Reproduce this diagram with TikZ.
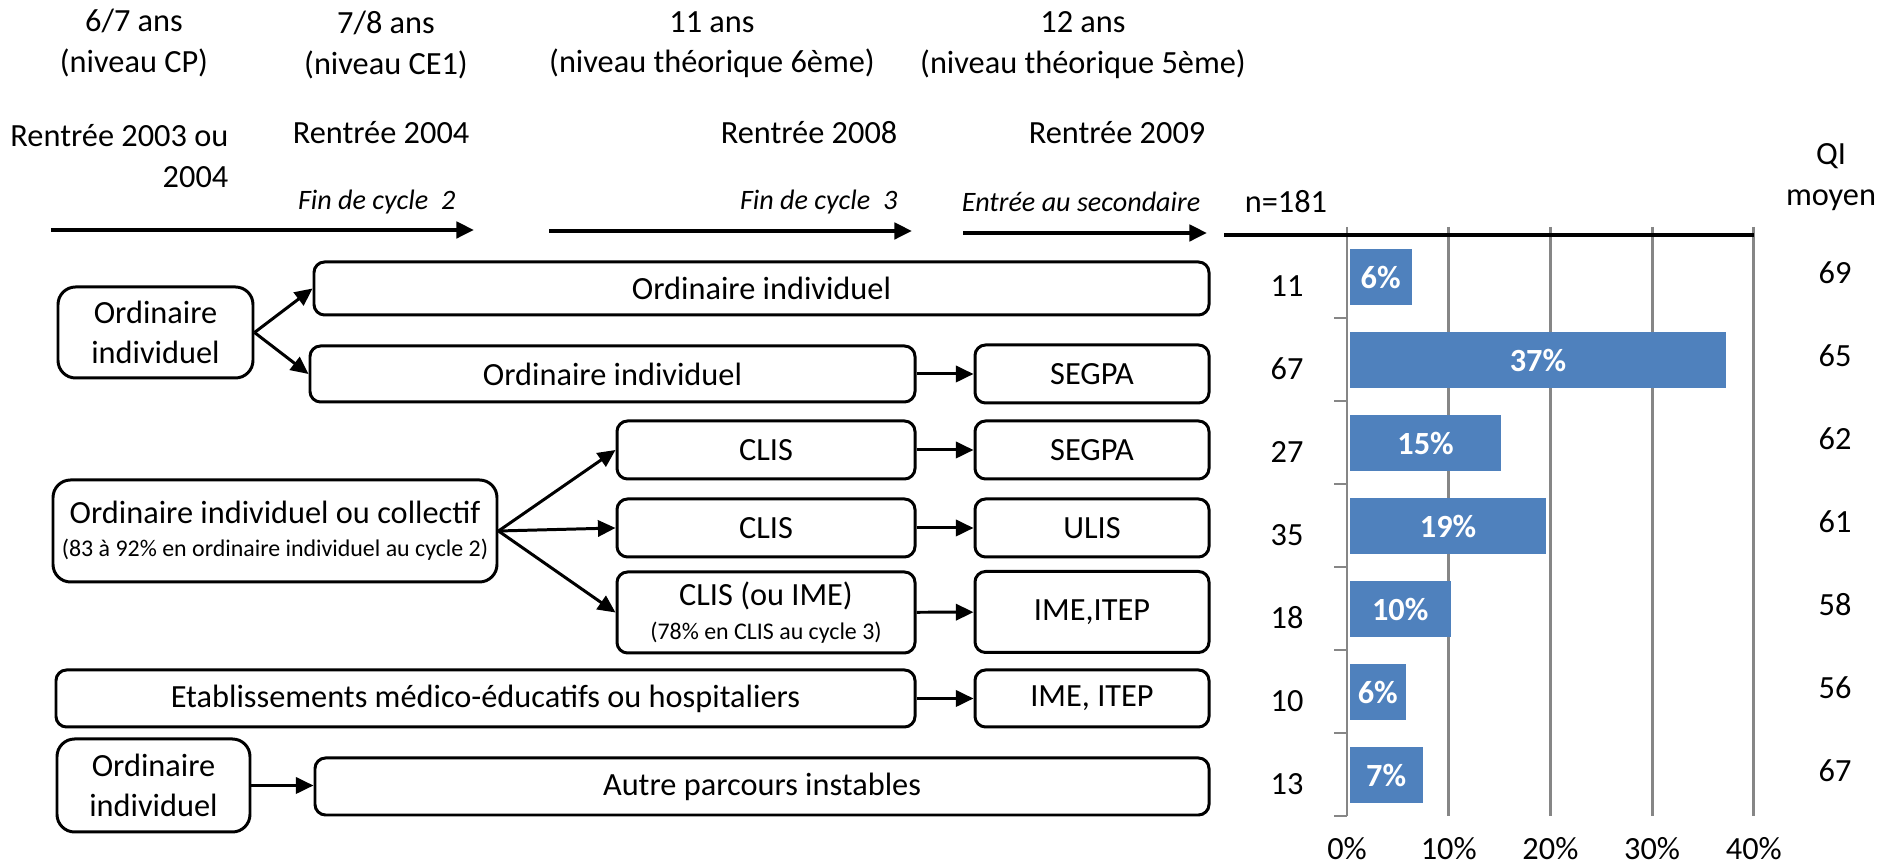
\documentclass[tikz,border=0pt]{standalone}
\usepackage{fontspec}
\setmainfont{Carlito}
\usepackage{tikz}
\usetikzlibrary{arrows.meta,positioning,calc}
\definecolor{barblue}{RGB}{79,129,189}
\definecolor{gridgray}{RGB}{134,134,134}

\begin{document}
\begin{tikzpicture}[x=1cm, y=-1cm, font=\fontsize{9.2}{11.5}\selectfont, >={Triangle[length=5pt,width=4.6pt]},
  box/.style={draw, line width=0.85pt, rounded corners=3pt, align=center, inner sep=1pt},
  bigbox/.style={box, rounded corners=5pt},
  lbl/.style={align=center, inner sep=0pt},
  cyc/.style={font=\fontsize{8}{9.6}\selectfont\itshape, inner sep=0pt},
  tl/.style={->, line width=1.1pt},
  arr/.style={->, line width=0.85pt},
  grid/.style={gridgray, line width=0.8pt},
  bar/.style={fill=barblue, text=white, font=\fontsize{9.2}{11.5}\selectfont\bfseries, inner sep=0pt, minimum height=0.56cm, anchor=west}]
  \useasboundingbox (0,0) rectangle (18.93,8.67);

  % ages and school years
  \node[lbl] (age1) at (1.34,0.43) {6/7 ans\\(niveau CP)};
  \node[lbl] (age2) at (3.86,0.45) {7/8 ans\\(niveau CE1)};
  \node[lbl] (age3) at (7.12,0.45) {11 ans\\(niveau théorique 6ème)};
  \node[lbl] (age4) at (10.83,0.45) {12 ans\\(niveau théorique 5ème)};
  \node[lbl, align=right, anchor=east] (ren1) at (2.29,1.56) {Rentrée 2003 ou\\2004};
  \node[lbl] (ren2) at (3.81,1.33) {Rentrée 2004};
  \node[lbl] (ren3) at (8.09,1.33) {Rentrée 2008};
  \node[lbl] (ren4) at (11.17,1.33) {Rentrée 2009};

  % timeline
  \coordinate (t1a) at (0.51,2.30);  \coordinate (t1b) at (4.74,2.30);
  \coordinate (t2a) at (5.49,2.31);  \coordinate (t2b) at (9.12,2.31);
  \coordinate (t3a) at (9.63,2.33);  \coordinate (t3b) at (12.07,2.33);
  \draw[tl] (t1a) -- (t1b);
  \draw[tl] (t2a) -- (t2b);
  \draw[tl] (t3a) -- (t3b);
  \node[cyc, anchor=east] (cyc2) at (4.56,2.02) {Fin de cycle~~2};
  \node[cyc, anchor=east] (cyc3) at (8.98,2.02) {Fin de cycle~~3};
  \node[cyc] (sec) at (10.81,2.02) {Entrée au secondaire};

  % pathways
  \node[bigbox, minimum width=1.95cm, minimum height=0.91cm] (oiA) at (1.555,3.325) {Ordinaire\\individuel};
  \node[box, minimum width=8.95cm, minimum height=0.53cm] (oi1) at (7.615,2.885) {Ordinaire individuel};
  \node[box, minimum width=6.05cm, minimum height=0.56cm] (oi2) at (6.125,3.74) {Ordinaire individuel};
  \node[box, minimum width=2.34cm, minimum height=0.58cm] (seg1) at (10.92,3.74) {SEGPA};
  \node[bigbox, minimum width=4.44cm, minimum height=1.02cm] (oicB) at (2.75,5.31) {Ordinaire individuel ou collectif\\[-2pt]{\fontsize{6.8}{8}\selectfont (83 à 92\% en ordinaire individuel au cycle 2)}};
  \node[box, minimum width=2.98cm, minimum height=0.58cm] (clis1) at (7.66,4.50) {CLIS};
  \node[box, minimum width=2.34cm, minimum height=0.58cm] (seg2) at (10.92,4.50) {SEGPA};
  \node[box, minimum width=2.98cm, minimum height=0.58cm] (clis2) at (7.66,5.28) {CLIS};
  \node[box, minimum width=2.34cm, minimum height=0.58cm] (ulis) at (10.92,5.28) {ULIS};
  \node[box, minimum width=2.98cm, minimum height=0.81cm] (clis3) at (7.66,6.125) {CLIS (ou IME)\\[-2pt]{\fontsize{6.8}{8}\selectfont (78\% en CLIS au cycle 3)}};
  \node[box, minimum width=2.34cm, minimum height=0.81cm] (ime1) at (10.92,6.12) {IME,ITEP};
  \node[box, minimum width=8.59cm, minimum height=0.57cm] (etab) at (4.855,6.985) {Etablissements médico-éducatifs ou hospitaliers};
  \node[box, minimum width=2.34cm, minimum height=0.57cm] (ime2) at (10.92,6.985) {IME, ITEP};
  \node[bigbox, minimum width=1.93cm, minimum height=0.93cm] (oiC) at (1.535,7.855) {Ordinaire\\individuel};
  \node[box, minimum width=8.94cm, minimum height=0.57cm] (autre) at (7.62,7.865) {Autre parcours instables};

  \draw[arr] (oiA.east) -- (oi1.west);
  \draw[arr] (oiA.east) -- (oi2.west);
  \draw[arr] (oi2) -- (seg1);
  \draw[arr] (oicB.east) -- (clis1.west);
  \draw[arr] (oicB.east) -- (clis2.west);
  \draw[arr] (oicB.east) -- (clis3.west);
  \draw[arr] (clis1) -- (seg2);
  \draw[arr] (clis2) -- (ulis);
  \draw[arr] (clis3) -- (ime1);
  \draw[arr] (etab) -- (ime2);
  \draw[arr] (oiC.east) -- (oiC.east -| autre.west);

  % bar chart
  \node[lbl] (nall) at (12.86,2.02) {n=181};
  \node[lbl] (qi) at (18.31,1.77) {QI\\moyen};
  \foreach \k in {1,...,4}
    \draw[grid] (13.47+1.017*\k,2.27) -- (13.47+1.017*\k,8.16);
  \foreach \k in {0,...,4} {
    \pgfmathtruncatemacro\pct{10*\k}
    \node[lbl] (ax\k) at (13.47+1.017*\k,8.49) {\pct\%};
  }
  \draw[grid] (13.47,2.27) -- (13.47,8.16);
  \foreach \n/\p/\lbl/\qi [count=\i from 0] in {11/6.08/6/69, 67/37.02/37/65, 27/14.92/15/62,
      35/19.34/19/61, 18/9.94/10/58, 10/5.52/6/56, 13/7.18/7/67} {
    \pgfmathsetmacro\ytop{2.35+0.83*\i}
    \node[bar, minimum width=\p*1.017mm] (bar\i) at (13.49,\ytop+0.425) {\lbl\%};
    \node[lbl] (n\i) at (12.87,\ytop+0.51) {\n};
    \node[lbl] (qi\i) at (18.35,\ytop+0.375) {\qi};
    \draw[grid] (13.34,\ytop+0.83) -- (13.47,\ytop+0.83);
  }
  \coordinate (axl) at (12.24,2.35);
  \coordinate (axr) at (17.54,2.35);
  \draw[line width=1.1pt] (axl) -- (axr);
\end{tikzpicture}
\end{document}
